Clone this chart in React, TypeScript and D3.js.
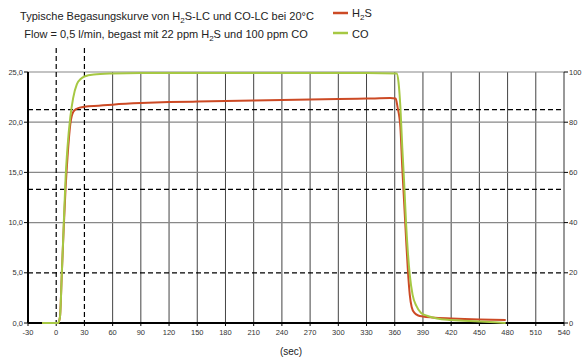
import React from 'react';
import * as d3 from 'd3';

// time (sec) and concentration values
const h2sTime = [-15, 2, 4, 6, 8, 10, 12, 15, 18, 21, 25, 30, 45, 60, 90, 120, 150, 180, 210, 240, 270, 300, 330, 355, 361, 363, 366, 368, 370, 372, 374, 376, 378, 381, 385, 390, 400, 420, 450, 478];
const h2sVal = [0, 0, 0.6, 5, 9.5, 13.5, 16.5, 19.8, 21.0, 21.3, 21.45, 21.55, 21.65, 21.75, 21.9, 22.0, 22.05, 22.1, 22.15, 22.2, 22.25, 22.3, 22.35, 22.4, 22.35, 21.5, 19.5, 15.5, 12, 8.5, 5.2, 2.8, 1.6, 1.0, 0.75, 0.65, 0.55, 0.45, 0.35, 0.3];
const coTime = [-15, 2, 4, 6, 8, 10, 12, 15, 18, 22, 26, 30, 40, 60, 90, 150, 240, 330, 362, 364, 366, 368, 370, 372, 374, 376, 379, 383, 388, 395, 405, 420, 450, 478];
const coVal = [0, 0, 0.6, 5, 9.8, 14.5, 17.5, 20.5, 22.4, 23.8, 24.3, 24.55, 24.75, 24.85, 24.9, 24.9, 24.9, 24.9, 24.85, 24, 21.5, 17.5, 14, 10, 7, 4.8, 2.8, 1.7, 1.0, 0.7, 0.45, 0.3, 0.15, 0];

const xTicks = d3.range(-30, 541, 30);
const yTicks = [0, 5, 10, 15, 20, 25];
const yRightTicks = [0, 20, 40, 60, 80, 100];
const dashedY = [21.25, 13.3, 5];
const dashedX = [0, 30];

const titleLines = ['Typische Begasungskurve von H', 'Flow = 0,5 l/min, begast mit 22 ppm H'];

export default function App() {
  const width = 583;
  const height = 360;
  const x = d3.scaleLinear().domain([-30, 540]).range([28, 564]);
  const y = d3.scaleLinear().domain([0, 25]).range([323, 72]);
  const yR = d3.scaleLinear().domain([0, 100]).range([323, 72]);

  const line = d3.line<[number, number]>()
    .x(d => x(d[0]))
    .y(d => y(d[1]))
    .curve(d3.curveMonotoneX);

  const h2sPath = line(h2sTime.map((t, i) => [t, h2sVal[i]]) as [number, number][]);
  const coPath = line(coTime.map((t, i) => [t, coVal[i]]) as [number, number][]);

  const font = "'Liberation Sans', Arial, Helvetica, sans-serif";
  const red = '#cc4a25';
  const green = '#a6c843';

  return (
    <svg width={width} height={height} style={{ position: 'absolute', left: 0, top: 0, background: '#fff' }} fontFamily={font}>
      {/* Title */}
      <text x={167} y={20} textAnchor="middle" fontSize={11} fill="#222">
        {titleLines[0]}<tspan fontSize={8} dy={3}>2</tspan><tspan dy={-3}>S-LC und CO-LC bei 20°C</tspan>
      </text>
      <text x={166} y={38} textAnchor="middle" fontSize={11} fill="#222">
        {titleLines[1]}<tspan fontSize={8} dy={3}>2</tspan><tspan dy={-3}>S und 100 ppm CO</tspan>
      </text>

      {/* Legend */}
      <line x1={333} x2={348} y1={13} y2={13} stroke={red} strokeWidth={2.5} />
      <text x={352} y={17} fontSize={11} fill="#222">H<tspan fontSize={8} dy={3}>2</tspan><tspan dy={-3}>S</tspan></text>
      <line x1={333} x2={348} y1={33} y2={33} stroke={green} strokeWidth={2.5} />
      <text x={352} y={38} fontSize={11} fill="#222">CO</text>

      {/* Grid */}
      {xTicks.filter(t => t > -30 && t < 540 && !dashedX.includes(t)).map(t => (
        <line key={`gx${t}`} x1={x(t)} x2={x(t)} y1={y(25)} y2={y(0)} stroke="#444" strokeWidth={1} />
      ))}
      {yTicks.filter(t => t > 0 && t !== 5).map(t => (
        <line key={`gy${t}`} x1={x(-30)} x2={x(540)} y1={y(t)} y2={y(t)} stroke="#888" strokeWidth={1.2} />
      ))}

      {/* Dashed markers */}
      {dashedY.map(v => (
        <line key={`dy${v}`} x1={x(-30)} x2={x(540)} y1={y(v)} y2={y(v)} stroke="#000" strokeWidth={1.2} strokeDasharray="5 3" />
      ))}
      {dashedX.map(v => (
        <line key={`dx${v}`} x1={x(v)} x2={x(v)} y1={48} y2={y(0)} stroke="#000" strokeWidth={1.2} strokeDasharray="5 3" />
      ))}

      {/* Axes */}
      <line x1={x(-30)} x2={x(-30)} y1={y(25)} y2={y(0)} stroke="#000" strokeWidth={2} />
      <line x1={x(540)} x2={x(540)} y1={y(25)} y2={y(0)} stroke="#333" strokeWidth={1} />
      <line x1={x(-30)} x2={x(540)} y1={y(0)} y2={y(0)} stroke="#000" strokeWidth={2} />

      {yTicks.map(t => (
        <g key={`yl${t}`}>
          <line x1={x(-30) - 4} x2={x(-30)} y1={y(t)} y2={y(t)} stroke="#000" />
          <text x={x(-30) - 5} y={y(t) + 2.5} textAnchor="end" fontSize={7.5} fill="#333">{t.toFixed(1).replace('.', ',')}</text>
        </g>
      ))}
      {yRightTicks.map(t => (
        <g key={`yr${t}`}>
          <line x1={x(540)} x2={x(540) + 4} y1={yR(t)} y2={yR(t)} stroke="#000" />
          <text x={x(540) + 5} y={yR(t) + 2.5} textAnchor="start" fontSize={7.5} fill="#333">{t}</text>
        </g>
      ))}
      {xTicks.map(t => (
        <g key={`xl${t}`}>
          <line x1={x(t)} x2={x(t)} y1={y(0)} y2={y(0) + 3} stroke="#000" />
          <text x={x(t)} y={y(0) + 12} textAnchor="middle" fontSize={7.5} fill="#333">{t}</text>
        </g>
      ))}
      <text x={291} y={355} textAnchor="middle" fontSize={10} fill="#222">(sec)</text>

      {/* Series */}
      <path d={h2sPath ?? ''} fill="none" stroke={red} strokeWidth={2} />
      <path d={coPath ?? ''} fill="none" stroke={green} strokeWidth={2} />
    </svg>
  );
}
